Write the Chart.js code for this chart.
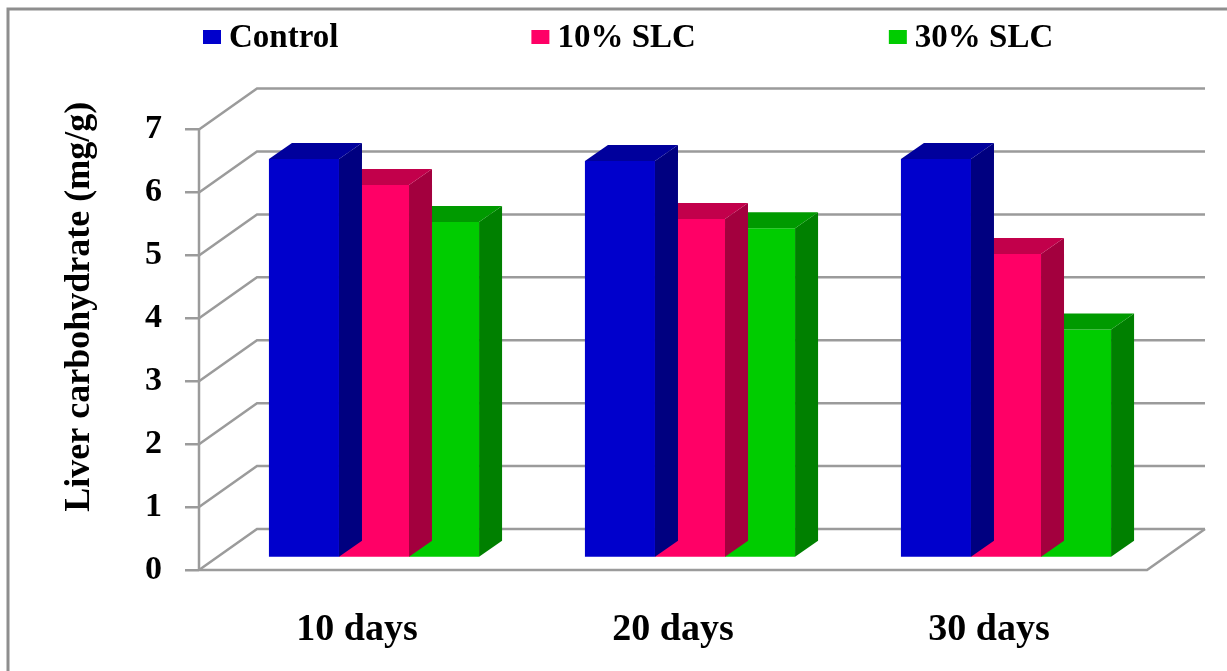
<!DOCTYPE html>
<html>
<head>
<meta charset="utf-8">
<title>Liver carbohydrate</title>
<script src="https://cdn.jsdelivr.net/npm/chart.js@4/dist/chart.umd.min.js"></script>
<style>
  html, body { margin: 0; padding: 0; background: #fff; }
  canvas { display: block; }
</style>
</head>
<body>
<canvas id="chart" width="1227" height="671"></canvas>
<script>
// ---- data ----
const categories = ['10 days', '20 days', '30 days'];
const seriesNames = ['Control', '10% SLC', '30% SLC'];
const controlValues = [6.34, 6.31, 6.34];
const slc10Values = [5.93, 5.39, 4.83];
const slc30Values = [5.34, 5.24, 3.63];
const yTickValues = [0, 1, 2, 3, 4, 5, 6, 7];

// ---- styling ----
const FRONT_COLORS = ['#0000CC', '#FF0066', '#00CC00'];
const TOP_COLORS = ['#00009C', '#C2004B', '#009A00'];
const SIDE_COLORS = ['#000080', '#A3003E', '#008000'];
const SERIF = '"Liberation Serif", "Times New Roman", serif';
const GRID_COLOR = '#9b9b9b';
const GRID_WIDTH = 2.5;

// 3-D look: depth of the walls, where the bars sit inside that depth, bar thickness
const WALL = { dx: 58, dy: -41 };
const BAR_SHIFT = { dx: 17, dy: -12 };
const BAR_DEPTH = { dx: 23, dy: -16 };

// white page with a grey frame on the left and top
const framePlugin = {
  id: 'frame',
  beforeDraw(chart) {
    const { ctx, width, height } = chart;
    ctx.save();
    ctx.fillStyle = '#ffffff';
    ctx.fillRect(0, 0, width, height);
    ctx.strokeStyle = '#8e8e8e';
    ctx.lineWidth = 3;
    ctx.beginPath();
    ctx.moveTo(8, height);
    ctx.lineTo(8, 9);
    ctx.lineTo(width, 9);
    ctx.stroke();
    ctx.restore();
  }
};

// back wall grid, side-wall diagonals, floor and front value axis
const wallsPlugin = {
  id: 'walls',
  beforeDatasetsDraw(chart) {
    const { ctx, chartArea } = chart;
    const y = chart.scales.y;
    const left = chartArea.left, right = chartArea.right;
    ctx.save();
    ctx.strokeStyle = GRID_COLOR;
    ctx.lineWidth = GRID_WIDTH;
    y.ticks.forEach(t => {
      const py = y.getPixelForValue(t.value);
      ctx.beginPath();
      ctx.moveTo(left, py);
      ctx.lineTo(left + WALL.dx, py + WALL.dy);
      ctx.lineTo(right + WALL.dx, py + WALL.dy);
      ctx.stroke();
    });
    const y0 = y.getPixelForValue(0);
    const yMax = y.getPixelForValue(yTickValues[yTickValues.length - 1]);
    // floor front edge and right edge
    ctx.beginPath();
    ctx.moveTo(left, y0);
    ctx.lineTo(right, y0);
    ctx.lineTo(right + WALL.dx, y0 + WALL.dy);
    ctx.stroke();
    // front value axis
    ctx.beginPath();
    ctx.moveTo(left, yMax);
    ctx.lineTo(left, y0);
    ctx.stroke();
    ctx.restore();
  }
};

// bars are pushed into the box and get a top and a side face
const bars3dPlugin = {
  id: 'bars3d',
  beforeDatasetDraw(chart) {
    chart.ctx.save();
    chart.ctx.translate(BAR_SHIFT.dx, BAR_SHIFT.dy);
  },
  afterDatasetDraw(chart, args) {
    const ctx = chart.ctx;
    const i = args.index;
    args.meta.data.forEach(bar => {
      const p = bar.getProps(['x', 'y', 'base', 'width'], true);
      const l = p.x - p.width / 2, r = p.x + p.width / 2;
      const top = p.y, bottom = p.base;
      // side face
      ctx.fillStyle = SIDE_COLORS[i];
      ctx.beginPath();
      ctx.moveTo(r, top);
      ctx.lineTo(r + BAR_DEPTH.dx, top + BAR_DEPTH.dy);
      ctx.lineTo(r + BAR_DEPTH.dx, bottom + BAR_DEPTH.dy);
      ctx.lineTo(r, bottom);
      ctx.closePath();
      ctx.fill();
      // top face
      ctx.fillStyle = TOP_COLORS[i];
      ctx.beginPath();
      ctx.moveTo(l, top);
      ctx.lineTo(l + BAR_DEPTH.dx, top + BAR_DEPTH.dy);
      ctx.lineTo(r + BAR_DEPTH.dx, top + BAR_DEPTH.dy);
      ctx.lineTo(r, top);
      ctx.closePath();
      ctx.fill();
    });
    ctx.restore();
  }
};

// one-row legend above the plot
const legendRowPlugin = {
  id: 'legendRow',
  afterDraw(chart) {
    const ctx = chart.ctx;
    ctx.save();
    ctx.font = 'bold 33px ' + SERIF;
    ctx.textBaseline = 'alphabetic';
    ctx.textAlign = 'left';
    let x = 203;
    chart.data.datasets.forEach(ds => {
      ctx.fillStyle = ds.backgroundColor;
      ctx.fillRect(x, 30, 18, 14);
      ctx.fillStyle = '#000';
      ctx.fillText(ds.label, x + 26, 47);
      x += 26 + ctx.measureText(ds.label).width + 193;
    });
    ctx.restore();
  }
};

const seriesValues = [controlValues, slc10Values, slc30Values];

new Chart(document.getElementById('chart'), {
  type: 'bar',
  data: {
    labels: categories,
    datasets: seriesNames.map((name, i) => ({
      label: name,
      data: seriesValues[i],
      backgroundColor: FRONT_COLORS[i],
      borderWidth: 0,
      categoryPercentage: 0.665,
      barPercentage: 1.0,
      clip: false
    }))
  },
  options: {
    responsive: false,
    animation: false,
    devicePixelRatio: 1,
    layout: { padding: { left: 9, right: 80, top: 40, bottom: 0 } },
    plugins: {
      legend: { display: false },
      tooltip: { enabled: false }
    },
    scales: {
      x: {
        grid: { display: false },
        border: { display: false },
        ticks: {
          color: '#000',
          padding: 29,
          font: { family: SERIF, size: 38, weight: 'bold' }
        },
        afterFit(scale) { scale.height = 101; }
      },
      y: {
        min: 0,
        max: 8.37,
        afterBuildTicks(scale) {
          scale.ticks = yTickValues.map(v => ({ value: v }));
        },
        grid: {
          drawOnChartArea: false,
          drawTicks: true,
          tickLength: 14,
          color: GRID_COLOR,
          lineWidth: GRID_WIDTH
        },
        border: { display: false },
        ticks: {
          color: '#000',
          padding: 23,
          font: { family: SERIF, size: 34, weight: 'bold' }
        },
        title: {
          display: true,
          text: 'Liver carbohydrate (mg/g)',
          color: '#000',
          padding: { top: 49, bottom: 0 },
          font: { family: SERIF, size: 36, weight: 'bold' }
        },
        afterFit(scale) { scale.width = 190; }
      }
    }
  },
  plugins: [framePlugin, wallsPlugin, bars3dPlugin, legendRowPlugin]
});
</script>
</body>
</html>
